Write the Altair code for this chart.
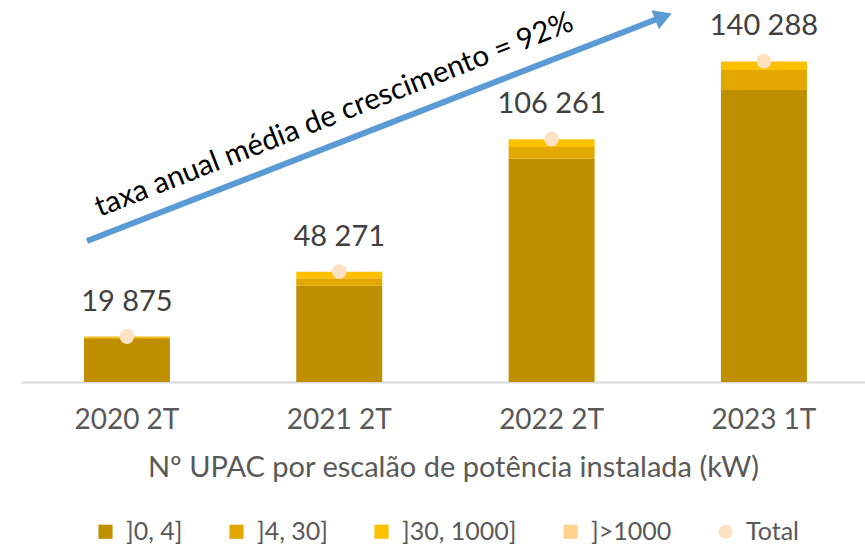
import altair as alt
import pandas as pd

periods = ["2020 2T", "2021 2T", "2022 2T", "2023 1T"]
classes = ["]0, 4]", "]4, 30]", "]30, 1000]", "]>1000"]
v_0_4 = [18800, 42100, 97600, 127700]
v_4_30 = [750, 3300, 5100, 8700]
v_30_1000 = [300, 2650, 3400, 3700]
v_gt_1000 = [25, 221, 161, 188]
totals = [19875, 48271, 106261, 140288]
series_all = classes + ["Total"]
colors = ["#BF8F00", "#E2A700", "#FFC000", "#FFD38C", "#FCE2C0"]
shapes = ["square", "square", "square", "square", "circle"]
FONT = "Lato"

rows = []
for i, p in enumerate(periods):
    for k, (c, vals) in enumerate(zip(classes, [v_0_4, v_4_30, v_30_1000, v_gt_1000])):
        rows.append({"period": p, "series": c, "value": vals[i], "ord": k})
bars_df = pd.DataFrame(rows)
tot_df = pd.DataFrame({
    "period": periods,
    "total": totals,
    "series": ["Total"] * len(periods),
    "label": [f"{t:,}".replace(",", " ") for t in totals],
})
one = pd.DataFrame({"a": [0]})

xscale = alt.Scale(paddingInner=0.595, paddingOuter=0.285, align=0.52)
xenc = alt.X("period:N", sort=periods, scale=xscale,
             axis=alt.Axis(title="Nº UPAC por escalão de potência instalada (kW)",
                           labelAngle=0, ticks=False, domainColor="#D9D9D9", domainWidth=2,
                           labelFontSize=28, labelColor="#595959", labelPadding=24,
                           titleFontSize=29, titleColor="#595959", titleFontWeight="normal",
                           titlePadding=19, titleX=432, labelFont=FONT, titleFont=FONT))
yscale = alt.Scale(domain=[0, 167000], nice=False, zero=True)
color_enc = alt.Color("series:N", scale=alt.Scale(domain=series_all, range=colors),
                      legend=alt.Legend(title=None, orient="none", legendX=72, legendY=519,
                                        direction="horizontal", labelFontSize=25,
                                        labelColor="#595959", labelFont=FONT,
                                        symbolSize=200, symbolStrokeWidth=0,
                                        columnPadding=41, labelOffset=8))

bars = alt.Chart(bars_df).mark_bar().encode(
    x=xenc,
    y=alt.Y("value:Q", stack="zero", scale=yscale, axis=None),
    color=color_enc,
    order=alt.Order("ord:Q"),
)

points = alt.Chart(tot_df).mark_point(filled=True, size=220, opacity=1).encode(
    x=alt.X("period:N", sort=periods, scale=xscale),
    y=alt.Y("total:Q", scale=yscale),
    color=alt.Color("series:N", scale=alt.Scale(domain=series_all, range=colors)),
    shape=alt.Shape("series:N", scale=alt.Scale(domain=series_all, range=shapes)),
)

labels = alt.Chart(tot_df).mark_text(fontSize=29, color="#404040", dy=-26,
                                     baseline="alphabetic", font=FONT).encode(
    x=alt.X("period:N", sort=periods, scale=xscale),
    y=alt.Y("total:Q", scale=yscale),
    text="label:N",
)

arrow_line = alt.Chart(one).mark_rule(color="#5B9BD5", strokeWidth=6).encode(
    x=alt.value(66), y=alt.value(241), x2=alt.value(638), y2=alt.value(18.3))
arrow_head = alt.Chart(one).mark_point(shape="triangle-right", filled=True, size=420,
                                       angle=338.73, color="#5B9BD5", opacity=1).encode(
    x=alt.value(642.4), y=alt.value(16.6))
arrow_text = alt.Chart(one).mark_text(text="taxa anual média de crescimento = 92%",
                                      angle=338.5, fontSize=29.5, color="#000000",
                                      font=FONT).encode(
    x=alt.value(313), y=alt.value(115))

chart = alt.layer(bars, points, labels, arrow_line, arrow_head, arrow_text).properties(
    width=844, height=382,
    autosize=alt.AutoSizeParams(type="none"),
    padding={"left": 21, "top": 0, "right": 0, "bottom": 165},
).configure(font=FONT, view={"stroke": None})

chart.save("out.html", embed_options={"renderer": "svg", "actions": False})
